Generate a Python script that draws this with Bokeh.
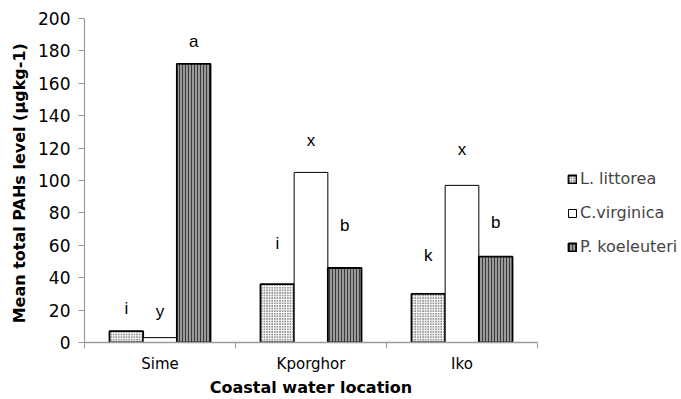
from bokeh.plotting import figure
from bokeh.models import (ColumnDataSource, FixedTicker, Legend, LegendItem,
                          Range1d)
from bokeh.embed import file_html
from bokeh.resources import INLINE
from bokeh.core.properties import value

locations = ["Sime", "Kporghor", "Iko"]
species = ["L. littorea", "C.virginica", "P. koeleuteri"]
l_littorea = [7, 36, 30]
c_virginica = [3, 105, 97]
p_koeleuteri = [172, 46, 53]
letters_l = ["i", "i", "k"]
letters_c = ["y", "x", "x"]
letters_p = ["a", "b", "b"]
letter_y_l = [21, 61, 54]
letter_y_c = [19, 125, 119]
letter_y_p = [186, 72, 74]
y_ticks = [0, 20, 40, 60, 80, 100, 120, 140, 160, 180, 200]

FONT = "DejaVu Sans"

p = figure(frame_width=453, frame_height=324, output_backend="svg",
           toolbar_location=None,
           x_range=Range1d(0, 3), y_range=Range1d(0, 200),
           min_border_left=84, min_border_top=18, min_border_bottom=40,
           min_border_right=128)
p.outline_line_color = None
p.grid.grid_line_color = None
p.background_fill_color = "white"

centers = [i + 0.5 for i in range(len(locations))]
bw = 0.223
offsets = [-bw, 0.0, bw]
series = [l_littorea, c_virginica, p_koeleuteri]
letters = [letters_l, letters_c, letters_p]
letter_ys = [letter_y_l, letter_y_c, letter_y_p]
styles = [
    dict(fill_color="white", hatch_pattern=".", hatch_color="black",
         hatch_scale=2.6, hatch_weight=1.8, line_color="black", line_width=1.8),
    dict(fill_color="white", line_color="black", line_width=1.0),
    dict(fill_color="#9a9a9a", hatch_pattern="|", hatch_color="#3a3a3a",
         hatch_scale=3, hatch_weight=1.0, line_color="black", line_width=1.8),
]

renderers = []
for vals, off, st, lab, ly in zip(series, offsets, styles, letters, letter_ys):
    src = ColumnDataSource(dict(x=[c + off for c in centers], top=vals, lab=lab, ly=ly))
    r = p.vbar(x="x", top="top", bottom=0, width=bw, source=src, **st)
    renderers.append(r)
    p.text(x="x", y="ly", text="lab", source=src, text_align="center",
           text_baseline="middle", text_font=value("Liberation Sans"),
           text_font_size="17px", text_color="black")

# axes
ax = p.xaxis[0]
ax.ticker = FixedTicker(ticks=centers, minor_ticks=[0, 1, 2, 3])
ax.major_label_overrides = {c: n for c, n in zip(centers, locations)}
ax.major_tick_line_color = None
ax.major_tick_out = 0
ax.major_tick_in = 0
ax.minor_tick_line_color = "#9a9a9a"
ax.minor_tick_in = 0
ax.minor_tick_out = 6
ax.axis_line_color = "#9a9a9a"
ax.axis_line_width = 1.5
ax.major_label_text_font = FONT
ax.major_label_text_font_size = "15px"
ax.major_label_text_color = "black"
ax.major_label_standoff = 6
ax.axis_label = "Coastal water location"
ax.axis_label_text_font = FONT
ax.axis_label_text_font_style = "bold"
ax.axis_label_text_font_size = "16px"
ax.axis_label_text_color = "black"
ax.axis_label_standoff = 2

ay = p.yaxis[0]
ay.ticker = FixedTicker(ticks=y_ticks, minor_ticks=[])
ay.axis_line_color = "#9a9a9a"
ay.axis_line_width = 1.2
ay.major_tick_line_color = "#9a9a9a"
ay.major_tick_in = 0
ay.major_tick_out = 6
ay.minor_tick_line_color = None
ay.major_label_text_font = FONT
ay.major_label_text_font_size = "17px"
ay.major_label_text_color = "black"
ay.major_label_standoff = 8
ay.axis_label = "Mean total  PAHs level (μgkg-1)"
ay.axis_label_text_font = FONT
ay.axis_label_text_font_style = "bold"
ay.axis_label_text_font_size = "16px"
ay.axis_label_text_color = "black"
ay.axis_label_standoff = 6

legend = Legend(items=[LegendItem(label=s, renderers=[r]) for s, r in zip(species, renderers)],
                location=(30, 86), border_line_color=None,
                background_fill_alpha=0, glyph_width=10, glyph_height=10,
                label_text_font=FONT, label_text_font_size="16px",
                label_standoff=3, spacing=15, margin=0, padding=0)
p.add_layout(legend, "right")

open("out.html", "w").write(file_html(p, INLINE))
